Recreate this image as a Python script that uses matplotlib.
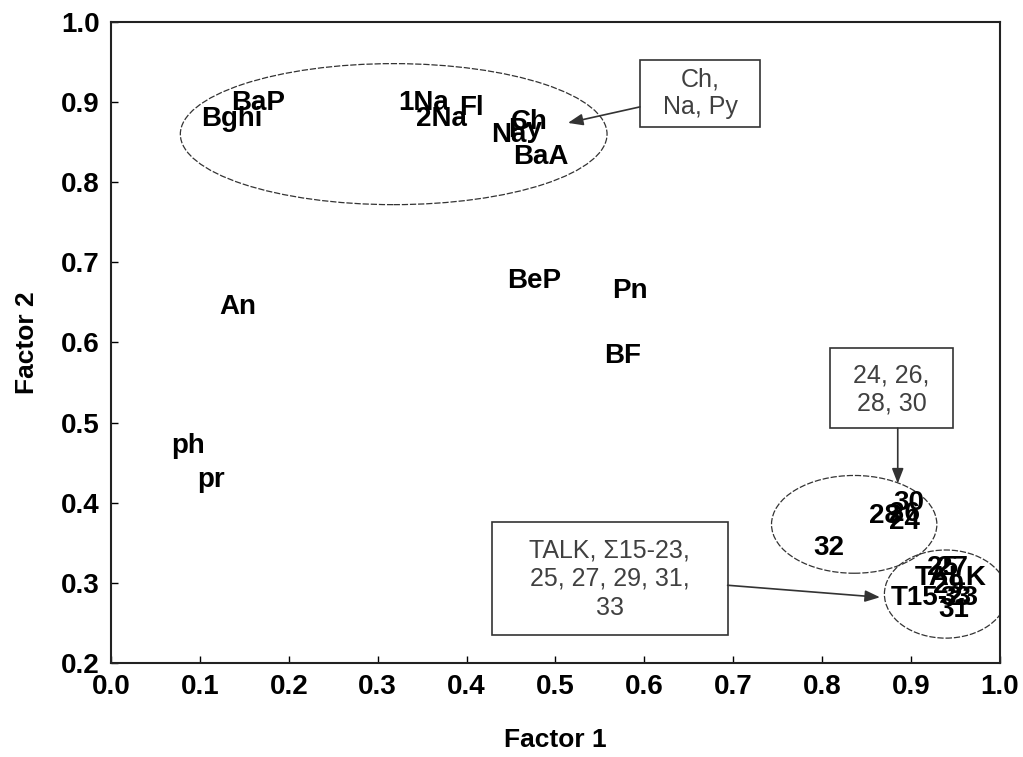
import matplotlib
matplotlib.use("Agg")
import matplotlib.pyplot as plt
from matplotlib.patches import Ellipse, Rectangle

# Factor loadings (Factor 1, Factor 2) for each variable
labels = ["BaP", "Bghi", "1Na", "2Na", "Fl", "Ch", "Py", "Na", "BaA",
          "BeP", "Pn", "BF", "An", "ph", "pr",
          "32", "28", "30", "26", "24",
          "TALK", "T15-23", "25", "27", "29", "33", "31"]
factor1 = [0.165, 0.136, 0.352, 0.372, 0.405, 0.471, 0.466, 0.447, 0.484,
           0.476, 0.584, 0.575, 0.143, 0.087, 0.112,
           0.807, 0.870, 0.897, 0.893, 0.893,
           0.944, 0.927, 0.935, 0.947, 0.942, 0.950, 0.948]
factor2 = [0.899, 0.879, 0.899, 0.879, 0.893, 0.875, 0.865, 0.859, 0.831,
           0.677, 0.664, 0.583, 0.644, 0.471, 0.428,
           0.343, 0.384, 0.400, 0.386, 0.376,
           0.306, 0.281, 0.318, 0.318, 0.296, 0.281, 0.266]

xticks = [i / 10 for i in range(11)]
yticks = [0.2 + i / 10 for i in range(9)]

plt.rcParams["font.family"] = ["Liberation Sans", "DejaVu Sans"]

fig = plt.figure(figsize=(10.23, 7.57), dpi=100)
ax = fig.add_axes([0.1085, 0.1242, 0.869, 0.8468])
ax.set_xlim(0.0, 1.0)
ax.set_ylim(0.2, 1.0)

for lab, x, y in zip(labels, factor1, factor2):
    ax.text(x, y, lab, ha="center", va="center", fontsize=20,
            fontweight="bold", color="black")

# group outlines
ell_style = dict(fill=False, edgecolor="#333333", linewidth=0.9,
                 linestyle=(0, (5, 1.5)))
ax.add_patch(Ellipse((0.318, 0.860), 0.480, 0.176, **ell_style))
ax.add_patch(Ellipse((0.836, 0.373), 0.186, 0.122, **ell_style))
ax.add_patch(Ellipse((0.939, 0.286), 0.138, 0.110, **ell_style))

# callout boxes
box_style = dict(fill=True, facecolor="white", edgecolor="#333333",
                 linewidth=1.2, zorder=3)
txt_style = dict(ha="center", va="center", fontsize=18, color="#404040",
                 linespacing=1.2, zorder=4)
arrow_style = dict(arrowstyle="-|>,head_length=0.9,head_width=0.35",
                   color="#333333", lw=1.2, shrinkA=0, shrinkB=0)

ax.add_patch(Rectangle((0.595, 0.869), 0.135, 0.084, **box_style))
ax.text(0.6625, 0.911, "Ch,\nNa, Py", **txt_style)
ax.annotate("", xy=(0.514, 0.874), xytext=(0.595, 0.894),
            arrowprops=arrow_style)

ax.add_patch(Rectangle((0.809, 0.493), 0.138, 0.100, **box_style))
ax.text(0.878, 0.541, "24, 26,\n28, 30", **txt_style)
ax.annotate("", xy=(0.885, 0.424), xytext=(0.885, 0.493),
            arrowprops=arrow_style)

ax.add_patch(Rectangle((0.4286, 0.235), 0.2654, 0.141, **box_style))
ax.text(0.561, 0.305, "TALK, \u03a315-23,\n25, 27, 29, 31,\n33",
        **{**txt_style, "linespacing": 1.25})
ax.annotate("", xy=(0.865, 0.282), xytext=(0.6936, 0.297),
            arrowprops=arrow_style)

ax.set_xticks(xticks)
ax.set_yticks(yticks)
ax.set_xticklabels([f"{t:.1f}" for t in xticks])
ax.set_yticklabels([f"{t:.1f}" for t in yticks])
ax.tick_params(direction="in", length=5, width=1, labelsize=20, pad=8)
for lbl in ax.get_xticklabels() + ax.get_yticklabels():
    lbl.set_fontweight("bold")
for sp in ax.spines.values():
    sp.set_linewidth(1.5)
    sp.set_color("#222222")

ax.set_xlabel("Factor 1", fontsize=19, fontweight="bold", labelpad=20)
ax.set_ylabel("Factor 2", fontsize=19, fontweight="bold", labelpad=16)

fig.savefig("out.png", dpi=100, facecolor="white")
